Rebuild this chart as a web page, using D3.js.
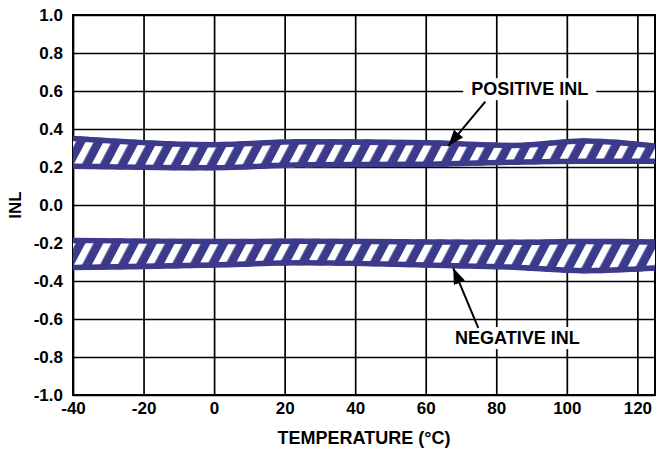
<!doctype html>
<html>
  <head>
    <script src="https://cdnjs.cloudflare.com/ajax/libs/d3/7.8.5/d3.min.js"></script>
    <style>
      body { margin: 0; background: #fff; }
      text { font-family: Arial, "Liberation Sans", Helvetica, sans-serif; font-weight: bold; fill: #000; }
    </style>
  </head>
  <body>
    <svg width="666" height="453"></svg>
    <script>
        var temps = [-40, 0, 25, 60, 85, 105, 125];
        var posTop = [0.365, 0.332, 0.347, 0.342, 0.328, 0.351, 0.325];
        var posBottom = [0.190, 0.182, 0.197, 0.200, 0.211, 0.216, 0.216];
        var negTop = [-0.172, -0.178, -0.176, -0.180, -0.182, -0.178, -0.180];
        var negBottom = [-0.344, -0.330, -0.318, -0.330, -0.342, -0.360, -0.346];

        var xTicks = [-40, -20, 0, 20, 40, 60, 80, 100, 120];
        var xTickLabels = ["-40", "-20", "0", "20", "40", "60", "80", "100", "120"];
        var yTicks = [1.0, 0.8, 0.6, 0.4, 0.2, 0.0, -0.2, -0.4, -0.6, -0.8, -1.0];
        var yTickLabels = ["1.0", "0.8", "0.6", "0.4", "0.2", "0.0", "-0.2", "-0.4", "-0.6", "-0.8", "-1.0"];

        var navy = "#3c3a8b";
        var mLeft = 73, mTop = 15, plotW = 582, plotH = 380;

        var svg = d3.select("svg");
        var x = d3.scaleLinear().domain([-40, 125]).range([mLeft, mLeft + plotW]);
        var y = d3.scaleLinear().domain([-1, 1]).range([mTop + plotH, mTop]);

        // hatch pattern
        var defs = svg.append("defs");
        var pat = defs.append("pattern")
            .attr("id", "hatch")
            .attr("patternUnits", "userSpaceOnUse")
            .attr("width", 15.8).attr("height", 20)
            .attr("patternTransform", "rotate(28)");
        pat.append("rect").attr("width", 15.8).attr("height", 20).attr("fill", navy);
        pat.append("rect").attr("width", 7.2).attr("height", 20).attr("fill", "#fff");

        defs.append("marker")
            .attr("id", "head")
            .attr("markerUnits", "userSpaceOnUse")
            .attr("viewBox", "0 0 16 12")
            .attr("refX", 16).attr("refY", 6)
            .attr("markerWidth", 16).attr("markerHeight", 12)
            .attr("orient", "auto")
          .append("path")
            .attr("d", "M0,0 L16,6 L0,12 z")
            .attr("fill", "#000");

        // grid via axes
        var xAxis = d3.axisBottom(x)
            .tickValues(xTicks)
            .tickSize(-plotH)
            .tickPadding(7)
            .tickFormat((d, i) => xTickLabels[i]);
        svg.append("g")
            .attr("transform", "translate(0," + (mTop + plotH) + ")")
            .call(xAxis);

        var yAxis = d3.axisLeft(y)
            .tickValues(yTicks)
            .tickSize(-plotW)
            .tickPadding(10)
            .tickFormat((d, i) => yTickLabels[i]);
        svg.append("g")
            .attr("transform", "translate(" + mLeft + ",0)")
            .call(yAxis);

        svg.selectAll(".domain").remove();
        svg.selectAll(".tick line").attr("stroke", "#000").attr("stroke-width", 1.7);
        svg.selectAll(".tick text").style("font-size", "17px").attr("fill", "#000");

        svg.append("rect")
            .attr("x", mLeft).attr("y", mTop)
            .attr("width", plotW).attr("height", plotH)
            .attr("fill", "none").attr("stroke", "#000").attr("stroke-width", 2);

        // bands
        function band(topVals, botVals, id) {
            var pts = temps.map((t, i) => ({ t: t, hi: topVals[i], lo: botVals[i] }));
            var area = d3.area()
                .curve(d3.curveMonotoneX)
                .x(d => x(d.t))
                .y0(d => y(d.lo))
                .y1(d => y(d.hi));
            defs.append("clipPath").attr("id", id)
              .append("path").attr("d", area(pts));
            var g = svg.append("g").attr("clip-path", "url(#" + id + ")");
            g.append("path").attr("d", area(pts)).attr("fill", "url(#hatch)");
            var lineHi = d3.line().curve(d3.curveMonotoneX).x(d => x(d.t)).y(d => y(d.hi));
            var lineLo = d3.line().curve(d3.curveMonotoneX).x(d => x(d.t)).y(d => y(d.lo));
            g.append("path").attr("d", lineHi(pts)).attr("fill", "none")
                .attr("stroke", navy).attr("stroke-width", 11);
            g.append("path").attr("d", lineLo(pts)).attr("fill", "none")
                .attr("stroke", navy).attr("stroke-width", 11);
        }
        band(posTop, posBottom, "clipPos");
        band(negTop, negBottom, "clipNeg");

        // annotations
        function label(txt, t, v) {
            var g = svg.append("g");
            var tx = g.append("text")
                .attr("x", x(t)).attr("y", y(v))
                .attr("text-anchor", "middle")
                .style("font-size", "18px")
                .text(txt);
            var b = tx.node().getBBox();
            g.insert("rect", "text")
                .attr("x", b.x - 8).attr("y", b.y - 1)
                .attr("width", b.width + 16).attr("height", b.height + 2)
                .attr("fill", "#fff");
        }
        function arrow(t0, v0, t1, v1) {
            svg.append("line")
                .attr("x1", x(t0)).attr("y1", y(v0))
                .attr("x2", x(t1)).attr("y2", y(v1))
                .attr("stroke", "#000").attr("stroke-width", 2)
                .attr("marker-end", "url(#head)");
        }
        label("POSITIVE INL", 89.5, 0.578);
        arrow(76.9, 0.544, 66.4, 0.311);
        label("NEGATIVE INL", 86, -0.732);
        arrow(74.9, -0.647, 67.8, -0.332);

        // axis titles
        svg.append("text")
            .attr("x", mLeft + plotW / 2).attr("y", 444)
            .attr("text-anchor", "middle")
            .style("font-size", "18px")
            .text("TEMPERATURE (°C)");
        svg.append("text")
            .attr("transform", "translate(21," + y(0) + ") rotate(-90)")
            .attr("text-anchor", "middle")
            .style("font-size", "17px")
            .text("INL");
    </script>
  </body>
</html>
